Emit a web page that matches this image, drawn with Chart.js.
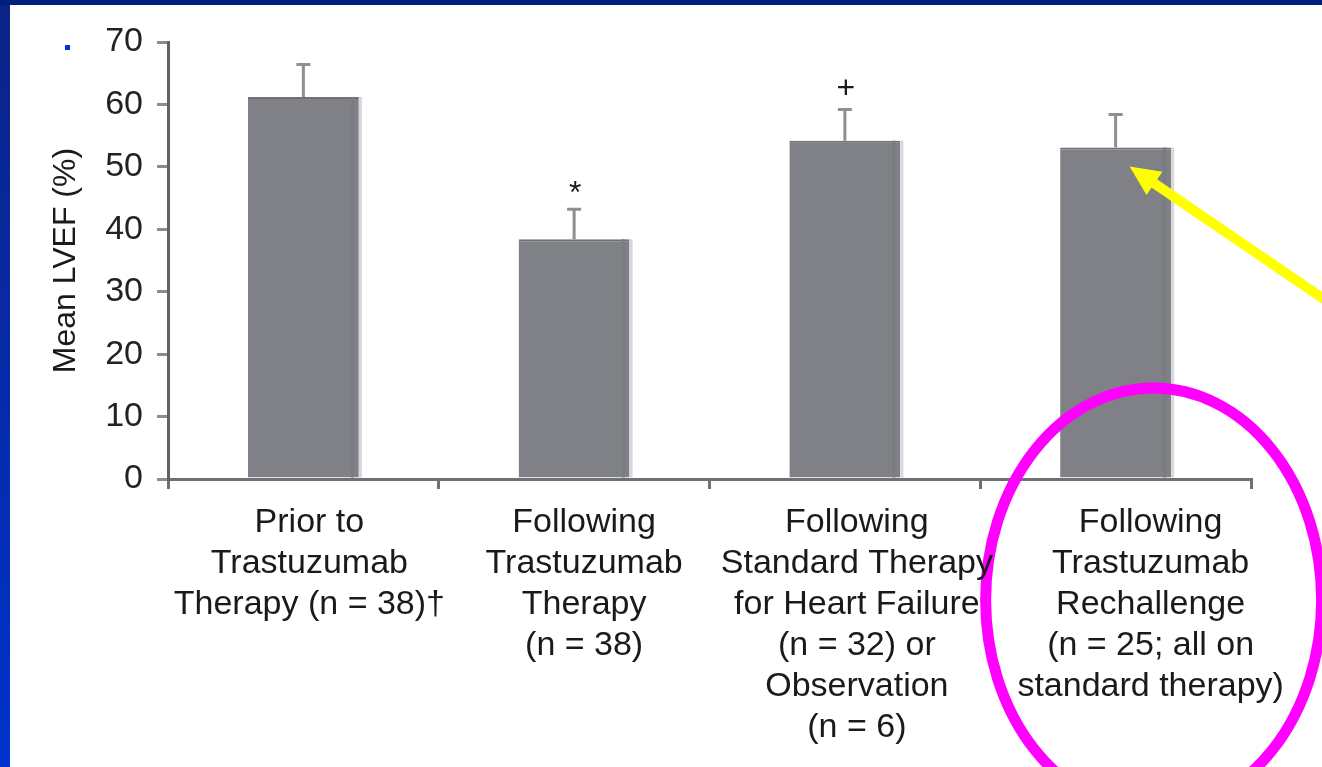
<!DOCTYPE html>
<html>
<head>
<meta charset="utf-8">
<title>Mean LVEF</title>
<script src="https://cdn.jsdelivr.net/npm/chart.js@4.4.1/dist/chart.umd.min.js"></script>
<style>
  html, body { margin: 0; padding: 0; background: #ffffff; }
  #wrap { width: 1322px; height: 767px; }
</style>
</head>
<body>
<div id="wrap"><canvas id="lvefChart" width="1322" height="767"></canvas></div>
<script>
  // values
  const categories = [
    ["Prior to", "Trastuzumab", "Therapy (n = 38)\u2020"],
    ["Following", "Trastuzumab", "Therapy", "(n = 38)"],
    ["Following", "Standard Therapy", "for Heart Failure", "(n = 32) or", "Observation", "(n = 6)"],
    ["Following", "Trastuzumab", "Rechallenge", "(n = 25; all on", "standard therapy)"]
  ];
  const meanLvef = [61.2, 38.4, 54.2, 53.1];
  const errLvef = [5.2, 4.8, 5.0, 5.3];
  const sigMarks = ["", "*", "+", ""];
  const yMin = 0;
  const yMax = 70;
  const yStep = 10;

  // the original labels sit a little right of their bars
  const labelShift = [6, 10, 12, 35];

  const FONT = '"Liberation Sans", Arial, sans-serif';
  Chart.defaults.font.family = FONT;

  // error bars, bar edge highlight, significance marks
  const errorBars = {
    id: "errorBars",
    afterDatasetsDraw(chart) {
      const { ctx, scales } = chart;
      const x = scales.x;
      const y = scales.y;
      const bars = chart.getDatasetMeta(0).data;
      ctx.save();

      bars.forEach((bar) => {
        ctx.fillStyle = "#d7d8db";
        ctx.fillRect(bar.x + bar.width / 2, bar.y, 3, bar.base - bar.y);
        ctx.fillStyle = "#7a7c80";
        ctx.fillRect(bar.x + bar.width / 2 - 8, bar.y, 3, bar.base - bar.y);
      });

      ctx.strokeStyle = "#8d8f93";
      ctx.lineWidth = 3;
      meanLvef.forEach((v, i) => {
        const px = x.getPixelForValue(i);
        const top = y.getPixelForValue(v + errLvef[i]);
        const base = y.getPixelForValue(v);
        ctx.beginPath();
        ctx.moveTo(px, base);
        ctx.lineTo(px, top);
        ctx.moveTo(px - 7, top);
        ctx.lineTo(px + 7, top);
        ctx.stroke();

        if (sigMarks[i]) {
          ctx.font = "32px " + FONT;
          ctx.fillStyle = "#1a1a1a";
          ctx.textAlign = "center";
          ctx.textBaseline = "alphabetic";
          const m = ctx.measureText(sigMarks[i]);
          const mid = top - 22;
          const base2 = mid + (m.actualBoundingBoxAscent - m.actualBoundingBoxDescent) / 2;
          ctx.fillText(sigMarks[i], px + 1, base2);
        }
      });
      ctx.restore();
    }
  };

  // category labels, drawn under the axis with the original's offsets
  const categoryLabels = {
    id: "categoryLabels",
    afterDraw(chart) {
      const { ctx, scales } = chart;
      const x = scales.x;
      ctx.save();
      ctx.font = "34px " + FONT;
      ctx.fillStyle = "#1a1a1a";
      ctx.textAlign = "center";
      ctx.textBaseline = "middle";
      categories.forEach((lines, i) => {
        const px = x.getPixelForValue(i) + labelShift[i];
        lines.forEach((line, k) => {
          ctx.fillText(line, px, x.top + 44 + k * 41);
        });
      });
      ctx.restore();
    }
  };

  // slide decorations: frame, bullet, arrow, ellipse
  const slideDecor = {
    id: "slideDecor",
    beforeDraw(chart) {
      const { ctx, width, height } = chart;
      ctx.save();
      ctx.fillStyle = "#ffffff";
      ctx.fillRect(0, 0, width, height);
      ctx.restore();
    },
    afterDraw(chart) {
      const { ctx, width, height, scales } = chart;
      const x = scales.x;
      const y = scales.y;
      ctx.save();

      // blue slide frame
      const grad = ctx.createLinearGradient(0, 0, 0, height);
      grad.addColorStop(0, "#0b2386");
      grad.addColorStop(1, "#0033cc");
      ctx.fillStyle = grad;
      ctx.fillRect(0, 0, 10, height);
      ctx.fillStyle = "#001e7e";
      ctx.fillRect(0, 0, width, 5);

      // bullet
      ctx.fillStyle = "#0035dd";
      ctx.fillRect(65, 45, 5, 5);

      const cx = x.getPixelForValue(3);
      const barTop = y.getPixelForValue(meanLvef[3]);

      // magenta ellipse
      ctx.strokeStyle = "#ff00ff";
      ctx.lineWidth = 11;
      ctx.beginPath();
      ctx.ellipse(cx + 38, 600, 168, 212, 0, 0, Math.PI * 2);
      ctx.stroke();

      // yellow arrow
      const tipX = cx + 14;
      const tipY = barTop + 19;
      const len = Math.hypot(192, 131);
      const dx = 192 / len;
      const dy = 131 / len;
      const headLen = 30;
      const headHalf = 14;
      const bx = tipX + dx * headLen;
      const by = tipY + dy * headLen;
      ctx.strokeStyle = "#ffff00";
      ctx.fillStyle = "#ffff00";
      ctx.lineWidth = 10;
      ctx.beginPath();
      ctx.moveTo(bx - dx * 2, by - dy * 2);
      ctx.lineTo(tipX + dx * 400, tipY + dy * 400);
      ctx.stroke();
      ctx.beginPath();
      ctx.moveTo(tipX, tipY);
      ctx.lineTo(bx - dy * headHalf, by + dx * headHalf);
      ctx.lineTo(bx + dy * headHalf, by - dx * headHalf);
      ctx.closePath();
      ctx.fill();

      ctx.restore();
    }
  };

  const ctx = document.getElementById("lvefChart").getContext("2d");
  new Chart(ctx, {
    type: "bar",
    data: {
      labels: categories,
      datasets: [{
        label: "Mean LVEF (%)",
        data: meanLvef,
        backgroundColor: "#7f8186",
        borderColor: "#6e7074",
        borderWidth: { top: 2, left: 0, right: 0, bottom: 0 },
        barPercentage: 0.41,
        categoryPercentage: 1.0
      }]
    },
    options: {
      responsive: false,
      animation: false,
      devicePixelRatio: 1,
      layout: {
        padding: { top: 42, right: 71, bottom: 0, left: 30 }
      },
      plugins: {
        legend: { display: false },
        tooltip: { enabled: false }
      },
      scales: {
        x: {
          offset: true,
          afterFit(scale) { scale.height = 288; },
          border: { display: true, color: "#6e7074", width: 3 },
          grid: {
            offset: true,
            drawOnChartArea: false,
            drawTicks: true,
            tickLength: 10,
            color: "#6e7074",
            lineWidth: 3
          },
          ticks: {
            display: false,
            autoSkip: false,
            maxRotation: 0,
            minRotation: 0
          }
        },
        y: {
          min: yMin,
          max: yMax,
          afterFit(scale) { scale.width = 138; },
          border: { display: true, color: "#5f6165", width: 3 },
          grid: {
            drawOnChartArea: false,
            drawTicks: true,
            tickLength: 11,
            color: "#8a8c90",
            lineWidth: 3
          },
          ticks: {
            stepSize: yStep,
            padding: 14,
            color: "#222222",
            font: { size: 34 }
          },
          title: {
            display: true,
            text: "Mean LVEF (%)",
            color: "#1a1a1a",
            padding: { top: 17, bottom: 0 },
            font: { size: 32, lineHeight: 1.2 }
          }
        }
      }
    },
    plugins: [slideDecor, errorBars, categoryLabels]
  });
</script>
</body>
</html>
